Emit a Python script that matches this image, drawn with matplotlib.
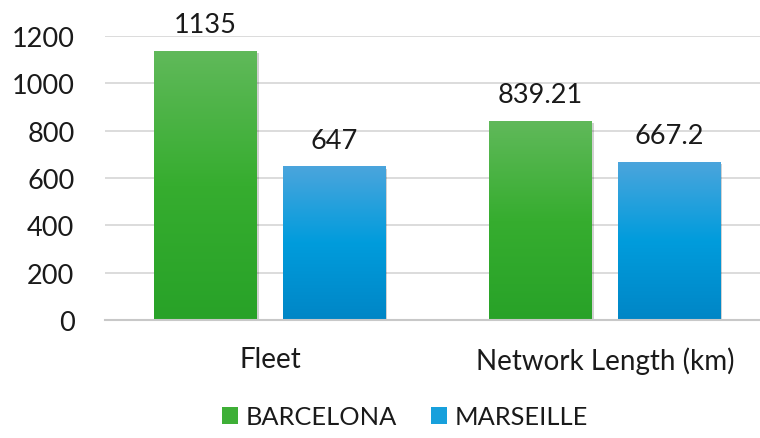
import numpy as np
import matplotlib
matplotlib.use("Agg")
import matplotlib.pyplot as plt
from matplotlib.colors import LinearSegmentedColormap
from matplotlib.patches import Patch
import matplotlib.patheffects as pe

categories = ["Fleet", "Network Length (km)"]
series_names = ["BARCELONA", "MARSEILLE"]
barcelona = [1135, 839.21]
marseille = [647, 667.2]
value_labels = [["1135", "839.21"], ["647", "667.2"]]
yticks = [0, 200, 400, 600, 800, 1000, 1200]

plt.rcParams["font.family"] = ["Lato", "DejaVu Sans"]
FS = 19.5

green_cmap = LinearSegmentedColormap.from_list(
    "green_grad", ["#28a228", "#36ad2f", "#60b95a"])
blue_cmap = LinearSegmentedColormap.from_list(
    "blue_grad", ["#0086c6", "#009cdc", "#4ba5dd"])

fig = plt.figure(figsize=(7.6, 4.39), dpi=100)
ax = fig.add_axes([105 / 760, 1 - 321 / 439, 655 / 760, (321 - 37) / 439])

x = np.arange(len(categories))
width = 0.307
offset = 0.192

gradient = np.linspace(0, 1, 256).reshape(-1, 1)
shadow = [pe.SimplePatchShadow(offset=(1.2, -1.2), shadow_rgbFace="#000000", alpha=0.18),
          pe.Normal()]

for vals, labels, dx, cmap in [(barcelona, value_labels[0], -offset, green_cmap),
                               (marseille, value_labels[1], offset, blue_cmap)]:
    bars = ax.bar(x + dx, vals, width, color="none", edgecolor="none", zorder=3)
    for bar, lab in zip(bars, labels):
        x0, y0 = bar.get_x(), bar.get_y()
        w, h = bar.get_width(), bar.get_height()
        bg = ax.bar(x0 + w / 2, h, w, color="white", zorder=2.5)
        bg[0].set_path_effects(shadow)
        ax.imshow(gradient, cmap=cmap, origin="lower", aspect="auto",
                  extent=(x0, x0 + w, y0, y0 + h), zorder=3, interpolation="bilinear")
        ax.annotate(lab, (x0 + w / 2, h), xytext=(0, 10), textcoords="offset points",
                    ha="center", va="bottom", fontsize=FS, color="#1a1a1a")

ax.set_xlim(-0.4925, 1.4627)
ax.set_ylim(0, 1200)
ax.set_yticks(yticks)
ax.set_yticklabels([str(t) for t in yticks])
ax.set_xticks(x)
ax.set_xticklabels(categories)
ax.tick_params(axis="both", length=0, labelsize=FS, labelcolor="#1a1a1a")
ax.tick_params(axis="x", labelsize=20)
ax.tick_params(axis="y", pad=22)
ax.tick_params(axis="x", pad=19)
ax.grid(axis="y", color="#d9d9d9", linewidth=1.3, zorder=0)
ax.set_axisbelow(True)
for s in ["top", "right", "left"]:
    ax.spines[s].set_visible(False)
ax.spines["bottom"].set_color("#c8c8c8")
ax.spines["bottom"].set_linewidth(1.5)
ax.spines["bottom"].set_zorder(4)

handles = [Patch(facecolor="#3eaf37", edgecolor="none"),
           Patch(facecolor="#17a0dc", edgecolor="none")]
fig.legend(handles, series_names, loc="lower center", bbox_to_anchor=(0.533, -0.01),
           ncol=2, frameon=False, fontsize=18.3, handlelength=0.62, handleheight=0.62,
           handletextpad=0.31, columnspacing=1.36, labelcolor="#1a1a1a", borderpad=0.05)

fig.savefig("out.png", dpi=100)
